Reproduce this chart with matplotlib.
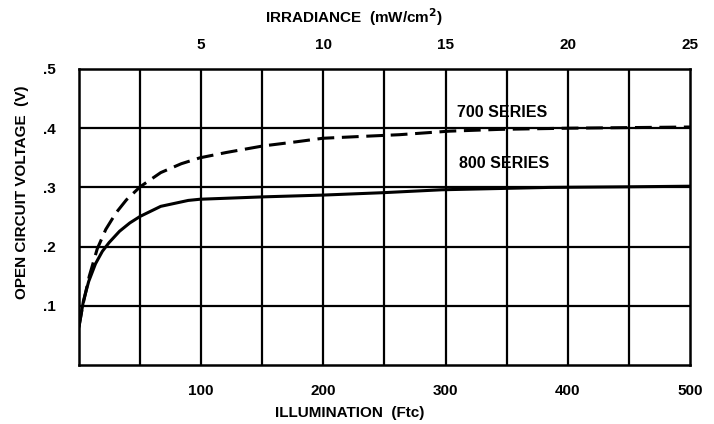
import matplotlib
matplotlib.use("Agg")
import matplotlib.pyplot as plt
import numpy as np

# Data
illum_700 = [0, 3, 8.4, 14.9, 21.9, 30.3, 38.8, 50, 66.9, 83.7, 99, 120.6, 150.5,
             177.7, 199.5, 230, 262, 303, 344, 400, 450, 500]
voc_700 = [0.065, 0.100, 0.150, 0.196, 0.229, 0.257, 0.279, 0.301, 0.325, 0.340, 0.350,
           0.359, 0.370, 0.377, 0.383, 0.386, 0.389, 0.395, 0.398, 0.400, 0.401, 0.402]

illum_800 = [0, 3.6, 7.9, 13.5, 19.1, 24.7, 33.2, 41.6, 50, 66.9, 89.4, 99, 150.5,
             199.5, 248, 297, 385, 450, 500]
voc_800 = [0.065, 0.108, 0.141, 0.171, 0.192, 0.207, 0.226, 0.240, 0.251, 0.268, 0.278,
           0.280, 0.284, 0.287, 0.291, 0.296, 0.300, 0.301, 0.302]

x_ticks = [100, 200, 300, 400, 500]
x_ticklabels = ["100", "200", "300", "400", "500"]
y_ticks = [0.1, 0.2, 0.3, 0.4, 0.5]
y_ticklabels = [".1", ".2", ".3", ".4", ".5"]
irr_ticks = [5, 10, 15, 20, 25]
FTC_PER_MW = 20.0

plt.rcParams['font.family'] = ['Liberation Sans', 'DejaVu Sans']
plt.rcParams['font.weight'] = 'bold'
plt.rcParams['mathtext.default'] = 'bf'

W, H = 714, 424
fig = plt.figure(figsize=(W / 100, H / 100), dpi=100)
ax = fig.add_axes([79 / W, (H - 365) / H, (690 - 79) / W, (365 - 69) / H])

ax.set_xlim(0, 500)
ax.set_ylim(0, 0.5)

# grid
for gx in np.arange(50, 500, 50):
    ax.axvline(gx, color='black', lw=1.6, zorder=1)
for gy in [0.1, 0.2, 0.3, 0.4]:
    ax.axhline(gy, color='black', lw=1.6, zorder=1)

ax.plot(illum_700, voc_700, color='black', lw=2.2, dashes=(5.5, 2.5), zorder=3)
ax.plot(illum_800, voc_800, color='black', lw=2.2, zorder=3)

for s in ax.spines.values():
    s.set_linewidth(1.8)

FS = 11
ax.set_xticks(x_ticks)
ax.set_xticklabels(x_ticklabels)
ax.set_yticks(y_ticks)
ax.set_yticklabels(y_ticklabels)
ax.tick_params(axis='x', length=0, pad=14, labelsize=FS)
ax.tick_params(axis='y', length=0, pad=17, labelsize=FS)
for lab in ax.get_xticklabels() + ax.get_yticklabels():
    lab.set_fontweight('bold')

sec = ax.secondary_xaxis('top', functions=(lambda x: x / FTC_PER_MW, lambda x: x * FTC_PER_MW))
sec.set_xticks(irr_ticks)
sec.set_xticklabels([str(v) for v in irr_ticks])
sec.tick_params(length=0, pad=12, labelsize=FS)
for lab in sec.get_xticklabels():
    lab.set_fontweight('bold')
sec.spines['top'].set_visible(False)

# axis titles placed like in the reference
fig.text(265 / W, 1 - 17 / H, "IRRADIANCE  (mW/cm$^2$)", fontsize=FS, fontweight='bold',
         ha='left', va='center')
fig.text(275 / W, 1 - 413 / H, "ILLUMINATION  (Ftc)", fontsize=FS, fontweight='bold',
         ha='left', va='center')
fig.text(22 / W, 1 - 192 / H, "OPEN CIRCUIT VOLTAGE  (V)", fontsize=FS, fontweight='bold',
         ha='center', va='center', rotation=90)

ax.text(309, 0.427, "700 SERIES", fontsize=11.5, fontweight='bold', va='center', ha='left', zorder=4)
ax.text(311, 0.341, "800 SERIES", fontsize=11.5, fontweight='bold', va='center', ha='left', zorder=4)

fig.savefig("out.png", dpi=100, facecolor='white')
